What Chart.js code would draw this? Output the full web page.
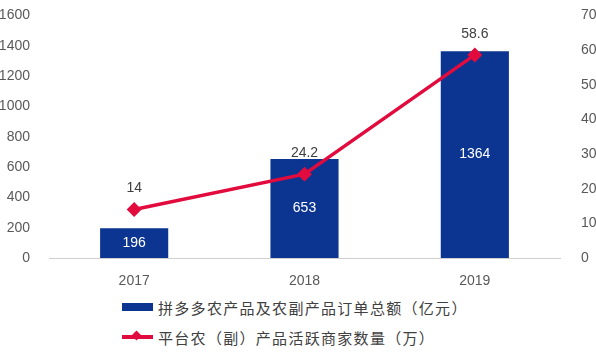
<!DOCTYPE html>
<html>
<head>
<meta charset="utf-8">
<script src="https://cdn.jsdelivr.net/npm/chart.js@4/dist/chart.umd.min.js"></script>
<style>
  html, body { margin: 0; padding: 0; background: #fff; overflow: hidden; }
  /* chart.js keeps ~20px above the plot; pull the canvas up so the plot top sits at y=15 */
  #wrap { position: relative; width: 596px; height: 291px; margin-top: -6px; }
  #legend { position: absolute; left: 122px; top: 292px; font-family: 'Noto Sans CJK SC', sans-serif;
            font-size: 15px; letter-spacing: 1.3px; color: #404040; }
  .item { height: 30px; display: flex; align-items: center; }
  .sw { width: 31px; height: 8px; margin-right: 5px; position: relative; }
  .ln { width: 31px; height: 4px; margin-right: 5px; position: relative; }
  .ln i { position: absolute; left: 11px; top: -3px; width: 7px; height: 7px; transform: rotate(45deg); }
</style>
</head>
<body>
<div id="wrap"><canvas id="c"></canvas></div>
<div id="legend"></div>
<script>
  /* ---------- data ---------- */
  var years = ['2017', '2018', '2019'];
  var orderTotal = [196, 653, 1364];       // 亿元, left axis
  var merchants = [14, 24.2, 58.6];        // 万, right axis
  var seriesNames = ['拼多多农产品及农副产品订单总额（亿元）', '平台农（副）产品活跃商家数量（万）'];

  var BLUE = '#0b3591', RED = '#e20b3e', TICK = '#595959';
  var FONT = "'Liberation Sans', Arial, sans-serif";

  /* value labels: white inside bars, gray above line points */
  var valueLabels = {
    id: 'valueLabels',
    afterDatasetsDraw: function (chart) {
      var ctx = chart.ctx;
      ctx.save();
      ctx.font = '14px ' + FONT;
      ctx.textAlign = 'center';
      ctx.textBaseline = 'middle';
      chart.getDatasetMeta(1).data.forEach(function (el, i) {   // bars
        ctx.fillStyle = '#ffffff';
        ctx.fillText(String(orderTotal[i]), el.x, (el.y + el.base) / 2);
      });
      chart.getDatasetMeta(0).data.forEach(function (el, i) {   // line points
        ctx.fillStyle = '#404040';
        ctx.fillText(String(merchants[i]), el.x, el.y - 21);
      });
      ctx.restore();
    }
  };

  function plain(v) { return String(v); }

  new Chart(document.getElementById('c'), {
    data: {
      labels: years,
      datasets: [{
        type: 'line',
        label: seriesNames[1],
        data: merchants,
        yAxisID: 'y1',
        borderColor: RED,
        backgroundColor: RED,
        borderWidth: 3.5,
        pointStyle: 'rectRot',
        pointRadius: 5,
        pointHoverRadius: 5,
        tension: 0,
        order: 0
      }, {
        type: 'bar',
        label: seriesNames[0],
        data: orderTotal,
        yAxisID: 'y',
        backgroundColor: BLUE,
        barPercentage: 0.4,
        categoryPercentage: 1,
        order: 1
      }]
    },
    options: {
      responsive: true,
      maintainAspectRatio: false,
      animation: false,
      layout: { padding: 0 },
      plugins: { legend: { display: false }, tooltip: { enabled: false } },
      scales: {
        x: {
          grid: { display: false },
          border: { color: '#d0d0d0', width: 1 },
          ticks: { color: TICK, font: { family: FONT, size: 14 }, padding: 7 },
          afterFit: function (s) { s.height = 27; }
        },
        y: {
          position: 'left',
          min: 0, max: 1600,
          ticks: { stepSize: 200, color: TICK, font: { family: FONT, size: 14 }, padding: 11, callback: plain },
          grid: { display: false },
          border: { display: false },
          afterFit: function (s) { s.width = 49; }
        },
        y1: {
          position: 'right',
          min: 0, max: 70,
          ticks: { stepSize: 10, color: TICK, font: { family: FONT, size: 14 }, padding: 13, callback: plain },
          grid: { display: false },
          border: { display: false },
          afterFit: function (s) { s.width = 36; }
        }
      }
    },
    plugins: [valueLabels]
  });

  /* ---------- legend (stacked, left aligned as in the source) ---------- */
  var lg = document.getElementById('legend');
  lg.innerHTML =
    '<div class="item"><span class="sw" style="background:' + BLUE + '"></span>' + seriesNames[0] + '</div>' +
    '<div class="item"><span class="ln" style="background:' + RED + '"><i style="background:' + RED + '"></i></span>' + seriesNames[1] + '</div>';
</script>
</body>
</html>
